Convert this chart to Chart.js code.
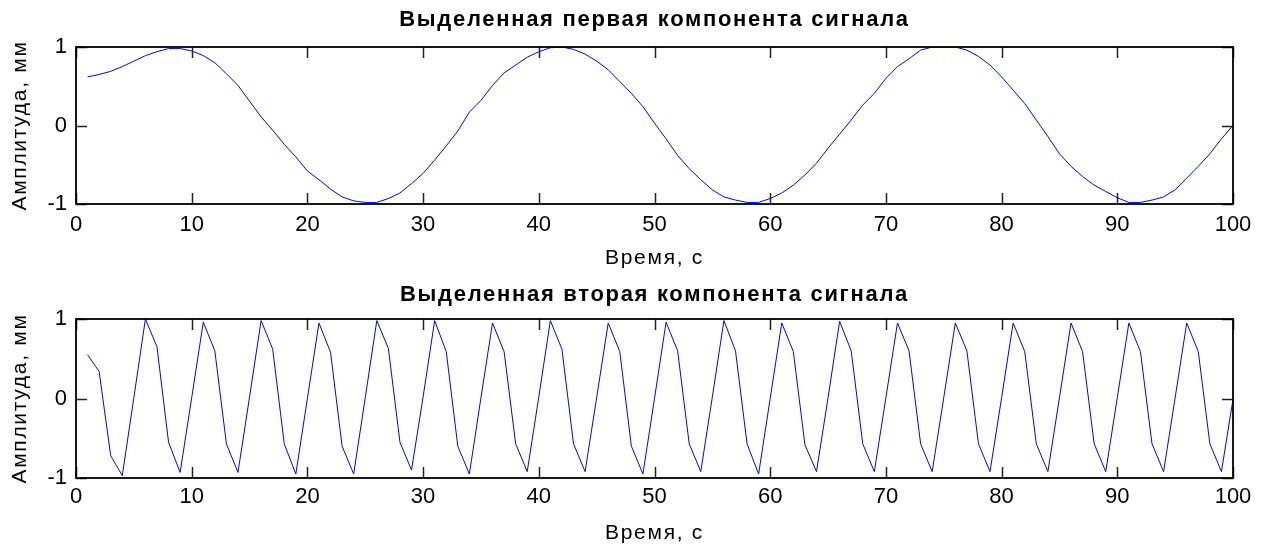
<!DOCTYPE html>
<html>
<head>
  <title>Выделенные компоненты сигнала</title>
  <style>
    body { margin: 0; background: #fff; }
    .panel { position: absolute; left: 0; }
    #top { top: 0; }
    #bottom { top: 272px; }
  </style>
</head>
<body>
  <div class="panel" id="top"><canvas id="chart1" width="1268" height="272"></canvas></div>
  <div class="panel" id="bottom"><canvas id="chart2" width="1268" height="274"></canvas></div>

  <script src="https://cdn.jsdelivr.net/npm/chart.js"></script>
  <script>
    // time axis, seconds (one sample per second)
    const time = [
      1, 2, 3, 4, 5, 6, 7, 8, 9, 10, 11, 12, 13, 14, 15, 16, 17, 18, 19, 20,
      21, 22, 23, 24, 25, 26, 27, 28, 29, 30, 31, 32, 33, 34, 35, 36, 37, 38, 39, 40,
      41, 42, 43, 44, 45, 46, 47, 48, 49, 50, 51, 52, 53, 54, 55, 56, 57, 58, 59, 60,
      61, 62, 63, 64, 65, 66, 67, 68, 69, 70, 71, 72, 73, 74, 75, 76, 77, 78, 79, 80,
      81, 82, 83, 84, 85, 86, 87, 88, 89, 90, 91, 92, 93, 94, 95, 96, 97, 98, 99, 100
    ];

    // first extracted component (slow one), mm
    const component1 = [
      0.62, 0.65, 0.69, 0.75, 0.82, 0.89, 0.94, 0.98, 0.98, 0.95,
      0.89, 0.80, 0.66, 0.51, 0.31, 0.11, -0.06, -0.24, -0.40, -0.58,
      -0.69, -0.81, -0.91, -0.96, -0.98, -0.98, -0.93, -0.86, -0.74, -0.61,
      -0.44, -0.26, -0.07, 0.17, 0.32, 0.51, 0.67, 0.77, 0.87, 0.94,
      0.99, 1.00, 0.97, 0.91, 0.82, 0.71, 0.56, 0.41, 0.24, 0.03,
      -0.17, -0.38, -0.55, -0.69, -0.82, -0.91, -0.95, -0.98, -0.98, -0.93,
      -0.86, -0.76, -0.63, -0.48, -0.29, -0.11, 0.07, 0.26, 0.41, 0.60,
      0.75, 0.85, 0.96, 1.00, 1.00, 1.00, 0.96, 0.88, 0.77, 0.62,
      0.45, 0.28, 0.07, -0.14, -0.36, -0.52, -0.65, -0.76, -0.84, -0.92,
      -0.98, -0.98, -0.95, -0.91, -0.82, -0.67, -0.52, -0.36, -0.17, 0.00
    ];

    // second extracted component (fast one), mm
    const component2 = [
      0.55, 0.34, -0.72, -0.97, 0.01, 1.00, 0.65, -0.55, -0.93, 0.01,
      0.96, 0.60, -0.57, -0.93, 0.02, 0.98, 0.62, -0.57, -0.95, 0.00,
      0.95, 0.58, -0.60, -0.95, 0.01, 0.98, 0.63, -0.55, -0.90, 0.02,
      0.98, 0.59, -0.60, -0.95, 0.01, 0.95, 0.59, -0.57, -0.92, 0.02,
      0.98, 0.62, -0.57, -0.92, 0.01, 0.95, 0.59, -0.60, -0.95, 0.00,
      0.96, 0.60, -0.57, -0.92, 0.02, 0.98, 0.60, -0.57, -0.95, 0.00,
      0.95, 0.59, -0.58, -0.92, 0.01, 0.97, 0.60, -0.57, -0.92, 0.01,
      0.95, 0.60, -0.57, -0.92, 0.01, 0.95, 0.60, -0.57, -0.92, 0.01,
      0.95, 0.59, -0.57, -0.92, 0.01, 0.95, 0.59, -0.57, -0.92, 0.01,
      0.95, 0.59, -0.57, -0.92, 0.01, 0.95, 0.59, -0.57, -0.92, -0.01
    ];

    const titles = [
      "Выделенная первая компонента сигнала",
      "Выделенная вторая компонента сигнала"
    ];
    const xLabel = "Время, с";
    const yLabel = "Амплитуда, мм";

    Chart.defaults.font.family = '"Liberation Sans", Arial, sans-serif';
    Chart.defaults.color = "#000";

    const TICK_LEN = 11;

    // the old MATLAB export has wide-set lettering in titles/labels;
    // tick labels are drawn later (ticks.z = 1) with normal spacing
    const spacingPlugin = {
      id: "spacing",
      beforeDraw(chart) { chart.ctx.letterSpacing = "1.7px"; },
      beforeDatasetsDraw(chart) { chart.ctx.letterSpacing = "0px"; }
    };

    // MATLAB-like box with inward ticks on all four sides
    const boxPlugin = {
      id: "matlabBox",
      afterDatasetsDraw(chart) {
        const { ctx, chartArea: a, scales } = chart;
        ctx.save();
        ctx.strokeStyle = "#222";
        ctx.lineWidth = 1.5;
        scales.x.ticks.forEach((t) => {
          const px = Math.round(scales.x.getPixelForValue(t.value)) + 0.5;
          ctx.beginPath();
          ctx.moveTo(px, a.top); ctx.lineTo(px, a.top + TICK_LEN);
          ctx.moveTo(px, a.bottom); ctx.lineTo(px, a.bottom - TICK_LEN);
          ctx.stroke();
        });
        scales.y.ticks.forEach((t) => {
          const py = Math.round(scales.y.getPixelForValue(t.value)) + 0.5;
          ctx.beginPath();
          ctx.moveTo(a.left, py); ctx.lineTo(a.left + TICK_LEN, py);
          ctx.moveTo(a.right, py); ctx.lineTo(a.right - TICK_LEN, py);
          ctx.stroke();
        });
        ctx.strokeStyle = "#000";
        ctx.lineWidth = 1.8;
        ctx.strokeRect(a.left, a.top, a.right - a.left, a.bottom - a.top);
        ctx.restore();
      }
    };

    // builds one subplot; layout numbers are in canvas pixels
    function makePlot(canvasId, title, values, lay) {
      const ctx = document.getElementById(canvasId).getContext("2d");
      const titleLH = lay.titleSize * 1.2;
      const tickLH = lay.tickSize * 1.2;
      const labLH = lay.labelSize * 1.2;
      return new Chart(ctx, {
        type: "line",
        data: {
          datasets: [{
            data: time.map((t, i) => ({ x: t, y: values[i] })),
            borderColor: "#0000ff",
            borderWidth: 1,
            pointRadius: 0,
            tension: 0,
            fill: false
          }]
        },
        options: {
          responsive: false,
          animation: false,
          layout: { padding: { left: 0, right: lay.right, top: 0, bottom: 0 } },
          plugins: {
            legend: { display: false },
            tooltip: { enabled: false },
            title: {
              display: true,
              fullSize: false,
              text: title,
              font: { size: lay.titleSize, weight: "bold" },
              padding: {
                top: lay.titleY - titleLH / 2,
                bottom: lay.plotTop - lay.titleY - titleLH / 2
              }
            }
          },
          scales: {
            x: {
              type: "linear",
              min: 0,
              max: 100,
              grid: { display: false, drawTicks: false },
              border: { display: false },
              ticks: {
                stepSize: 10,
                z: 1,
                font: { size: lay.tickSize },
                padding: lay.tickY - lay.plotBottom - tickLH / 2,
                maxRotation: 0
              },
              title: {
                display: true,
                text: xLabel,
                font: { size: lay.labelSize },
                padding: { top: 0, bottom: lay.height - lay.xTitleY - labLH / 2 }
              },
              afterFit(scale) { scale.height = lay.height - lay.plotBottom; }
            },
            y: {
              min: -1,
              max: 1,
              grid: { display: false, drawTicks: false },
              border: { display: false },
              ticks: {
                stepSize: 1,
                z: 1,
                font: { size: lay.tickSize },
                padding: lay.plotLeft - lay.tickRight
              },
              title: {
                display: true,
                text: yLabel,
                font: { size: lay.labelSize },
                padding: { top: lay.yTitleX - labLH / 2, bottom: 0 }
              },
              afterFit(scale) { scale.width = lay.plotLeft; }
            }
          }
        },
        plugins: [spacingPlugin, boxPlugin]
      });
    }

    const common = {
      titleSize: 22, tickSize: 22, labelSize: 21,
      plotLeft: 76, right: 35, tickRight: 67, yTitleX: 20
    };

    makePlot("chart1", titles[0], component1, Object.assign({}, common, {
      height: 272, plotTop: 47, plotBottom: 204, titleY: 20, tickY: 225, xTitleY: 258
    }));

    makePlot("chart2", titles[1], component2, Object.assign({}, common, {
      height: 274, plotTop: 47, plotBottom: 206, titleY: 23, tickY: 225, xTitleY: 261
    }));
  </script>
</body>
</html>
